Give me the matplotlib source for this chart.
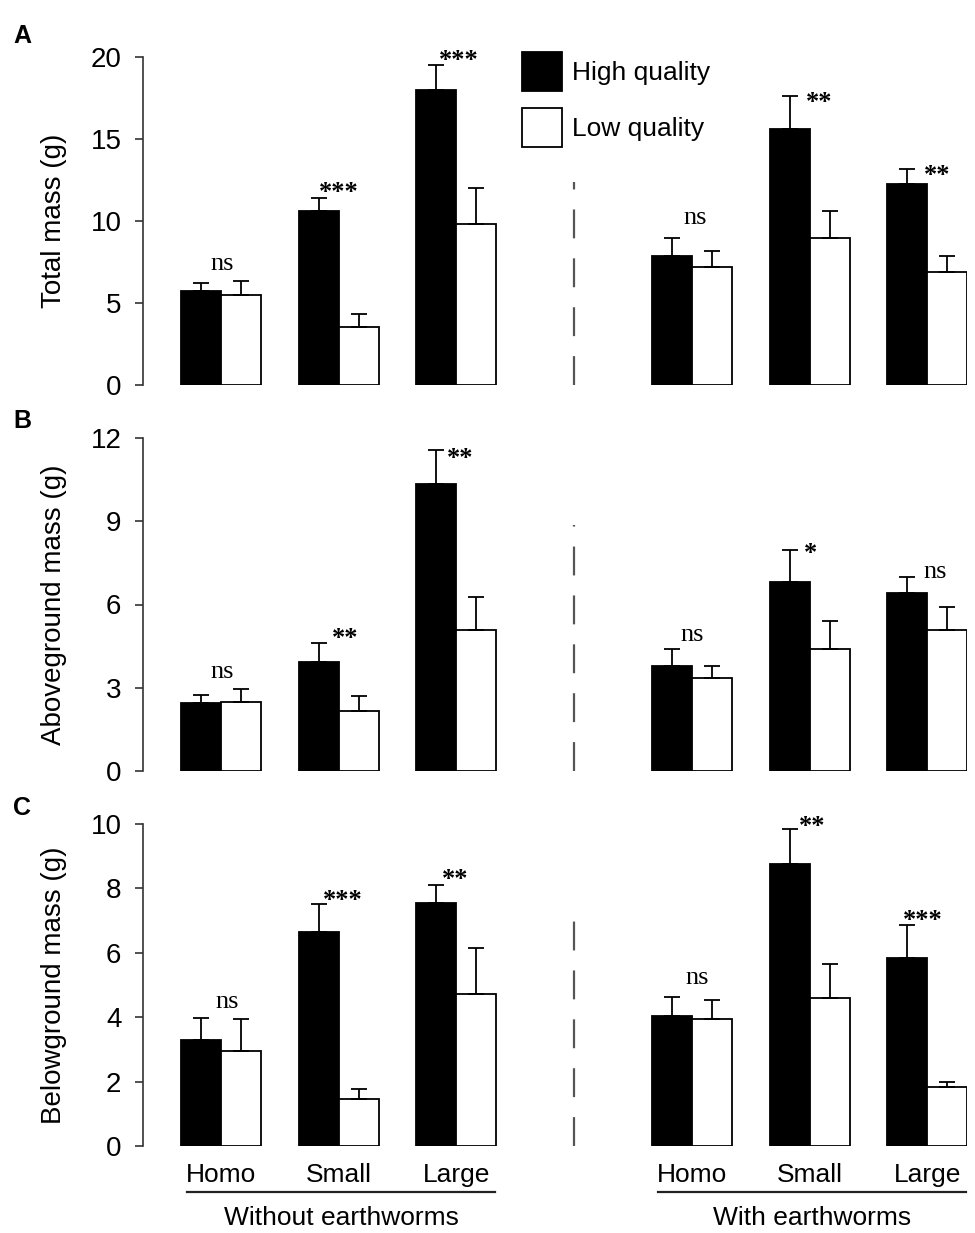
import numpy as np
import matplotlib.pyplot as plt
from matplotlib.patches import Patch
from matplotlib.transforms import blended_transform_factory

plt.rcParams['font.family'] = ['Liberation Sans', 'DejaVu Sans']

# --- Data (left 3 = without earthworms, right 3 = with earthworms) ---
GROUPS = ["Homo", "Small", "Large"]
CONDITIONS = ["Without earthworms", "With earthworms"]
SERIES = ["High quality", "Low quality"]

total_high = [5.73, 10.61, 17.99, 7.87, 15.59, 12.26]
total_high_se = [0.51, 0.81, 1.50, 1.07, 2.03, 0.89]
total_low = [5.49, 3.52, 9.82, 7.21, 8.96, 6.89]
total_low_se = [0.87, 0.79, 2.17, 0.98, 1.63, 0.98]
total_sig = ["ns", "***", "***", "ns", "**", "**"]

above_high = [2.45, 3.93, 10.34, 3.78, 6.81, 6.43]
above_high_se = [0.29, 0.68, 1.23, 0.61, 1.15, 0.57]
above_low = [2.49, 2.16, 5.08, 3.35, 4.39, 5.08]
above_low_se = [0.46, 0.54, 1.19, 0.43, 1.01, 0.82]
above_sig = ["ns", "**", "**", "ns", "*", "ns"]

below_high = [3.29, 6.65, 7.55, 4.04, 8.76, 5.84]
below_high_se = [0.69, 0.87, 0.55, 0.59, 1.08, 1.02]
below_low = [2.95, 1.46, 4.72, 3.94, 4.60, 1.83]
below_low_se = [0.99, 0.31, 1.43, 0.59, 1.05, 0.16]
below_sig = ["ns", "***", "**", "ns", "**", "***"]

# --- Layout ---
X = np.array([0, 1, 2, 4, 5, 6])
BAR_W = 0.34
DPI = 100
AX_LEFT, AX_W = 143 / 975, 824 / 975
XLIM = (-0.663, 6.338)
SPINE_C = '#333333'

panels = [
    dict(letter="A", ylabel="Total mass (g)", ymax=20, ticks=[0, 5, 10, 15, 20],
         hi=total_high, hi_se=total_high_se, lo=total_low, lo_se=total_low_se, sig=total_sig,
         rect=[AX_LEFT, 1 - 385 / 1233, AX_W, 328 / 1233], letter_y=43, dash=0.62,
         dx=[1, 0, 2, 3, 10, 10], dy=[17, 12, 11, 20, 0, 0]),
    dict(letter="B", ylabel="Aboveground mass (g)", ymax=12, ticks=[0, 3, 6, 9, 12],
         hi=above_high, hi_se=above_high_se, lo=above_low, lo_se=above_low_se, sig=above_sig,
         rect=[AX_LEFT, 1 - 771 / 1233, AX_W, 333 / 1233], letter_y=428, dash=0.74,
         dx=[1, 6, 4, 0, 1, 8], dy=[17, 11, -2, 14, 3, 5]),
    dict(letter="C", ylabel="Belowground mass (g)", ymax=10, ticks=[0, 2, 4, 6, 8, 10],
         hi=below_high, hi_se=below_high_se, lo=below_low, lo_se=below_low_se, sig=below_sig,
         rect=[AX_LEFT, 1 - 1146 / 1233, AX_W, 322 / 1233], letter_y=815, dash=0.74,
         dx=[6, 4, -1, 5, 3, -4], dy=[16, 10, 12, 19, 9, 11]),
]

fig = plt.figure(figsize=(9.75, 12.33), dpi=DPI)

axes = []
for p in panels:
    ax = fig.add_axes(p["rect"])
    axes.append(ax)
    hi, lo = np.array(p["hi"]), np.array(p["lo"])
    hi_se, lo_se = np.array(p["hi_se"]), np.array(p["lo_se"])

    ax.bar(X - BAR_W / 2, hi, BAR_W, color='black', edgecolor='black', linewidth=1.3, zorder=2)
    ax.bar(X + BAR_W / 2, lo, BAR_W, color='white', edgecolor='black', linewidth=1.3, zorder=2)
    ax.errorbar(X - BAR_W / 2, hi, yerr=[np.zeros_like(hi), hi_se], fmt='none', ecolor='black',
                elinewidth=1.3, capsize=6, capthick=1.3, zorder=3, clip_on=False)
    ax.errorbar(X + BAR_W / 2, lo, yerr=[np.zeros_like(lo), lo_se], fmt='none', ecolor='black',
                elinewidth=1.3, capsize=6, capthick=1.3, zorder=3, clip_on=False)

    # significance labels
    tops = np.maximum(hi + hi_se, lo + lo_se)
    for i, s in enumerate(p["sig"]):
        is_ns = s == "ns"
        base_off = 6 if is_ns else 13
        ax.annotate(s, xy=(X[i], tops[i]), xytext=(p["dx"][i], p["dy"][i] - base_off),
                    textcoords='offset pixels', ha='center', va='baseline',
                    fontsize=19, fontweight='normal' if is_ns else 'bold',
                    family=['Liberation Serif', 'DejaVu Serif'], annotation_clip=False)

    ax.axvline(3, ymin=0, ymax=p["dash"], color='#555555', lw=1.6, dashes=(13, 9))

    ax.set_xlim(*XLIM)
    ax.set_ylim(0, p["ymax"])
    ax.set_yticks(p["ticks"])
    ax.set_xticks([])
    for side in ('top', 'right', 'bottom'):
        ax.spines[side].set_visible(False)
    ax.spines['left'].set_color(SPINE_C)
    ax.spines['left'].set_linewidth(1.2)
    ax.tick_params(axis='y', direction='out', length=5.5, width=1.2, color=SPINE_C,
                   labelsize=20, pad=10)
    ax.set_ylabel(p["ylabel"], fontsize=20)
    ax.yaxis.set_label_coords(-0.092, 0.5)

    fig.text(13 / 975, 1 - p["letter_y"] / 1233, p["letter"], fontsize=18,
             fontweight='bold', va='baseline', ha='left')

# legend
handles = [Patch(facecolor='black', edgecolor='black', linewidth=1.3),
           Patch(facecolor='white', edgecolor='black', linewidth=1.3)]
fig.legend(handles, SERIES, loc='upper left', bbox_to_anchor=(522 / 975, 1 - 52 / 1233),
           frameon=False, fontsize=19, handlelength=1.52, handleheight=1.9,
           labelspacing=0.64, handletextpad=0.38, borderpad=0, borderaxespad=0)

# group labels below bottom panel
axc = axes[-1]
trans = blended_transform_factory(axc.transData, fig.transFigure)
for half, cond in enumerate(CONDITIONS):
    xs = X[half * 3:half * 3 + 3]
    for xi, g in zip(xs, GROUPS):
        axc.text(xi, 1 - 1182 / 1233, g, transform=trans, ha='center', va='baseline', fontsize=19)
    x0, x1 = xs[0] - 0.29, xs[-1] + 0.33
    axc.plot([x0, x1], [1 - 1192 / 1233] * 2, transform=trans, color='#222222', lw=1.6,
             clip_on=False)
    axc.text((x0 + x1) / 2, 1 - 1225 / 1233, cond, transform=trans, ha='center',
             va='baseline', fontsize=19)

fig.savefig('out.png', dpi=DPI)
